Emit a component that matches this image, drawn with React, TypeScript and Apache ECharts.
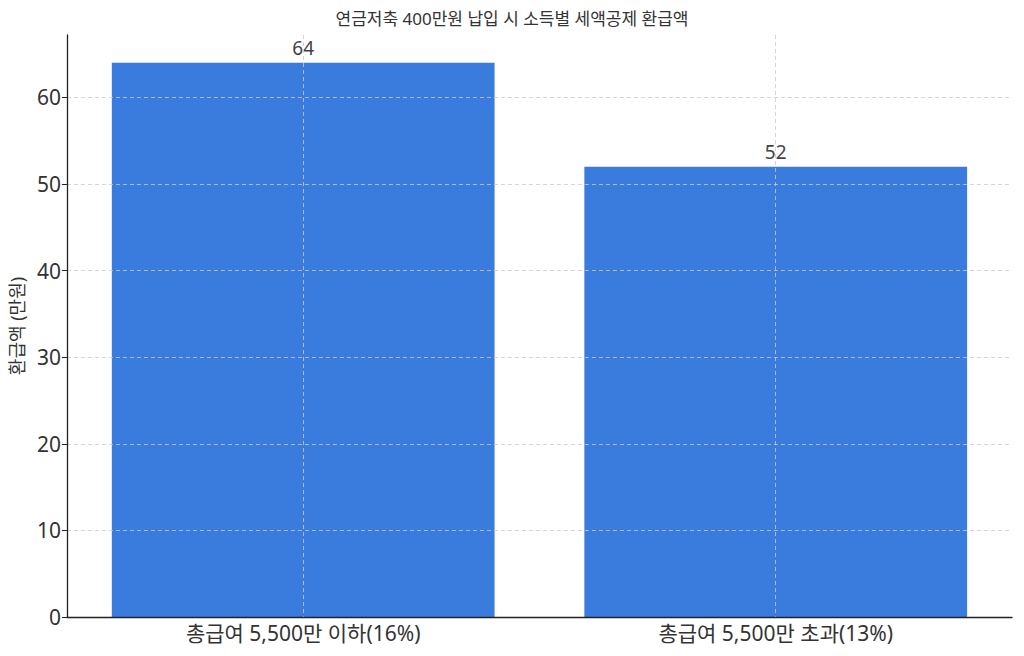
import { useEffect, useRef } from "react";
import * as echarts from "echarts";

const TITLE = "연금저축 400만원 납입 시 소득별 세액공제 환급액";
const Y_NAME = "환급액 (만원)";
const categories = ["총급여 5,500만 이하(16%)", "총급여 5,500만 초과(13%)"];
const refunds = [64, 52];

const FONT = "'Noto Sans', 'Noto Sans CJK KR', sans-serif";
const BAR_COLOR = "#3A7CDE";
const GRID_COLOR = "#cccccc";

export default function App() {
  const ref = useRef<HTMLDivElement>(null);

  useEffect(() => {
    if (!ref.current) return;
    const chart = echarts.init(ref.current, undefined, { renderer: "svg" });

    chart.setOption({
      animation: false,
      backgroundColor: "#ffffff",
      textStyle: { fontFamily: FONT },
      title: {
        text: TITLE,
        left: "center",
        top: 5,
        textStyle: { fontSize: 17, fontWeight: "normal", color: "#333333", fontFamily: FONT },
      },
      grid: { left: 66, right: 12, top: 35, bottom: 39 },
      xAxis: {
        type: "category",
        data: categories,
        axisLine: { lineStyle: { color: "#222222", width: 1.3 } },
        axisTick: { alignWithLabel: true, length: 5, lineStyle: { color: "#222222" } },
        axisLabel: { fontSize: 21, color: "#333333", margin: 5, fontFamily: FONT },
        splitLine: {
          show: true,
          alignWithLabel: true,
          lineStyle: { color: GRID_COLOR, type: [4, 3], width: 0.8 },
        },
      },
      yAxis: {
        type: "value",
        min: 0,
        max: 67.2,
        interval: 10,
        name: Y_NAME,
        nameLocation: "middle",
        nameGap: 40,
        nameTextStyle: { fontSize: 18, color: "#333333", fontFamily: FONT },
        axisLine: { show: true, lineStyle: { color: "#222222", width: 1.3 } },
        axisTick: { show: true, length: 5, lineStyle: { color: "#222222" } },
        axisLabel: { fontSize: 21, color: "#333333", margin: 6, showMaxLabel: false, fontFamily: FONT },
        splitLine: {
          show: true,
          showMinLine: false,
          showMaxLine: false,
          lineStyle: { color: GRID_COLOR, type: [4, 3], width: 0.8 },
        },
      },
      series: [
        {
          type: "bar",
          data: refunds,
          barWidth: "81%",
          z: -1,
          itemStyle: { color: BAR_COLOR },
          label: {
            show: true,
            position: "top",
            distance: 5,
            fontSize: 19,
            color: "#444444",
            fontFamily: FONT,
          },
        },
      ],
    });

    return () => chart.dispose();
  }, []);

  return (
    <div
      ref={ref}
      style={{ position: "fixed", left: 0, top: 0, width: 1024, height: 656 }}
    />
  );
}
